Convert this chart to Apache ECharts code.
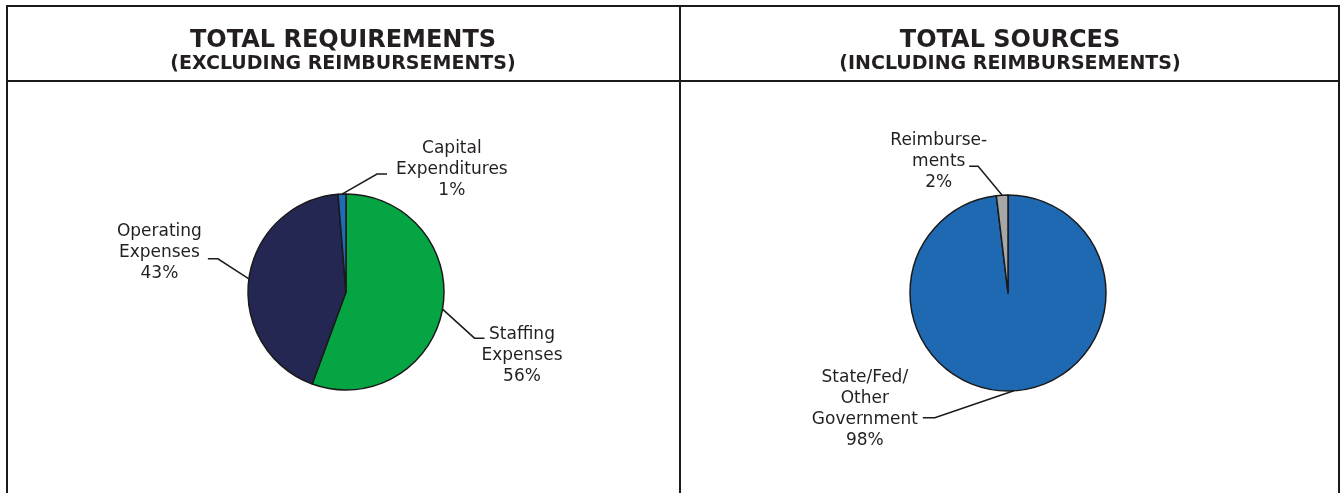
<!DOCTYPE html>
<html>
<head>
<meta charset="utf-8">
<script src="https://cdn.jsdelivr.net/npm/echarts@6/dist/echarts.min.js"></script>
<style>
  html, body { margin: 0; padding: 0; background: #fff; }
  #main { width: 1341px; height: 493px; }
</style>
</head>
<body>
<div id="main"></div>
<script>
// left panel: requirements (excluding reimbursements)
var reqNames = ['Staffing\nExpenses', 'Operating\nExpenses', 'Capital\nExpenditures'];
var reqValues = [55.6, 43.1, 1.3];
var reqColors = ['#05A544', '#232751', '#1F6BB4'];

// right panel: sources (including reimbursements)
var srcNames = ['State/Fed/\nOther\nGovernment', 'Reimburse-\nments'];
var srcValues = [98.1, 1.9];
var srcColors = ['#1E69B2', '#A7A7A7'];

var titles = [
    { main: 'TOTAL REQUIREMENTS', sub: '(EXCLUDING REIMBURSEMENTS)', x: 343 },
    { main: 'TOTAL SOURCES', sub: '(INCLUDING REIMBURSEMENTS)', x: 1010 }
];

// leader line shape per label: elbow offset from slice edge, horizontal run, text offset from line end
var spots = [
    [
        { elbow: [32, 29], run: 10, text: [-3, 17] },
        { elbow: [-31, -20], run: -10, text: [-6, -6] },
        { elbow: [35, -20], run: 10, text: [9, -5] }
    ],
    [
        { elbow: [-79, 27], run: -12, text: [-5, -9] },
        { elbow: [-24, -29], run: -9, text: [18, -5] }
    ]
];

var ink = '#231F20';
var fontFamily = '"DejaVu Sans", "Liberation Sans", sans-serif';

function labelText(p) {
    var lines = (p.name + '\n' + Math.round(p.percent) + '%').split('\n');
    return lines.map(function (l) { return '{c|' + l + '}'; }).join('\n');
}

function leader(p) {
    var s = spots[p.seriesIndex][p.dataIndex];
    var a = p.labelLinePoints[0];
    var elbow = [a[0] + s.elbow[0], a[1] + s.elbow[1]];
    var end = [elbow[0] + s.run, elbow[1]];
    return {
        x: end[0] + s.text[0],
        y: end[1] + s.text[1],
        align: s.run > 0 ? 'left' : 'right',
        verticalAlign: 'middle',
        labelLinePoints: [a, elbow, end]
    };
}

function pieSeries(names, values, colors, center) {
    return {
        type: 'pie',
        center: center,
        radius: 98,
        startAngle: 90,
        clockwise: true,
        avoidLabelOverlap: false,
        animation: false,
        silent: true,
        data: names.map(function (n, i) {
            return { name: n, value: values[i], itemStyle: { color: colors[i] } };
        }),
        itemStyle: { borderColor: '#1a1a1a', borderWidth: 1.5 },
        label: {
            show: true,
            position: 'outside',
            formatter: labelText,
            rich: {
                c: { align: 'center', fontSize: 17, lineHeight: 21, color: ink, fontFamily: fontFamily }
            }
        },
        labelLine: { show: true, length: 20, length2: 10, lineStyle: { color: '#1a1a1a', width: 1.5 } },
        labelLayout: leader
    };
}

var graphics = [];
function line(x1, y1, x2, y2) {
    graphics.push({
        type: 'line', silent: true,
        shape: { x1: x1, y1: y1, x2: x2, y2: y2 },
        style: { stroke: '#1a1a1a', lineWidth: 2 }
    });
}
line(6, 6, 1340, 6);
line(6, 81, 1340, 81);
line(7, 6, 7, 493);
line(680, 6, 680, 493);
line(1339, 6, 1339, 493);

titles.forEach(function (t) {
    graphics.push({
        type: 'text', x: t.x, y: 41,
        style: { text: t.main, fill: ink, font: 'bold 24px ' + fontFamily, align: 'center', verticalAlign: 'middle' }
    });
    graphics.push({
        type: 'text', x: t.x, y: 64,
        style: { text: t.sub, fill: ink, font: 'bold 19px ' + fontFamily, align: 'center', verticalAlign: 'middle' }
    });
});

var myChart = echarts.init(document.getElementById('main'));
myChart.setOption({
    backgroundColor: '#fff',
    animation: false,
    graphic: graphics,
    series: [
        pieSeries(reqNames, reqValues, reqColors, [346, 292]),
        pieSeries(srcNames, srcValues, srcColors, [1008, 293])
    ]
});
</script>
</body>
</html>
